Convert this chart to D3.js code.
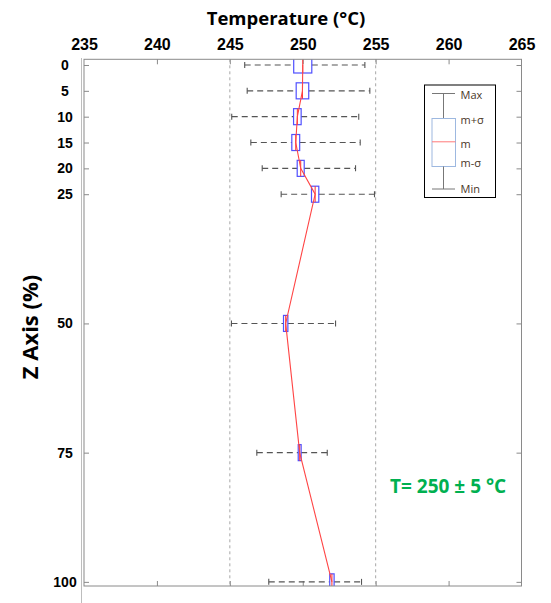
<!DOCTYPE html>
<html lang="en">
<head>
	<meta charset="UTF-8">
	<title>Temperature profile</title>
	<script src="https://d3js.org/d3.v7.min.js"></script>
	<style>
		body { margin: 0; background: #fff; }
		svg { display: block; font-family: "Open Sans", sans-serif; }
		.lbl text { font-weight: bold; fill: #000; }
		.inner line { stroke: #8a8a8a; }
	</style>
</head>
<body>
<svg id="chart" width="551" height="603"></svg>
<script>
	// depth positions (% of Z axis) and temperature stats (°C)
	var zPos   = [0, 5, 10, 15, 20, 25, 50, 75, 100];
	var meanT  = [250.0, 249.98, 249.63, 249.52, 249.86, 250.85, 248.83, 249.79, 252.0];
	var sigmaT = [0.62, 0.43, 0.26, 0.27, 0.24, 0.25, 0.15, 0.10, 0.15];
	var minT   = [246.02, 246.19, 245.13, 246.44, 247.22, 248.52, 245.11, 246.85, 247.67];
	var maxT   = [254.26, 254.6, 253.84, 253.94, 253.62, 254.92, 252.25, 251.68, 254.03];

	var xTicks = [235, 240, 245, 250, 255, 260, 265];
	var yTicks = [0, 5, 10, 15, 20, 25, 50, 75, 100];
	var limits = [245, 255];

	(function chart() {
		var data = zPos.map(function(z, i) {
			return { z: z, m: meanT[i], s: sigmaT[i], lo: minT[i], hi: maxT[i] };
		});

		var svg = d3.select("#chart");
		var pl = 84, pr = 521.5, pt = 59.3, pb = 586;

		var x = d3.scaleLinear().domain([235, 265]).range([pl, pr]);
		var y = d3.scaleLinear().domain([-1.1, 100.8]).range([pt, pb]);

		svg.append("rect").attr("width", 551).attr("height", 603).attr("fill", "#fff");

		svg.append("clipPath").attr("id", "clip")
			.append("rect").attr("x", pl).attr("y", pt)
			.attr("width", pr - pl).attr("height", pb - pt);

		// overlay axis line on the left
		svg.append("line")
			.attr("x1", 81.5).attr("x2", 81.5).attr("y1", 58).attr("y2", 603)
			.attr("stroke", "#bdbdbd");

		// inward ticks on all four sides
		var inner = svg.append("g").attr("class", "inner");
		inner.append("g").attr("transform", "translate(0," + pt + ")")
			.call(d3.axisTop(x).tickValues(xTicks.slice(1, -1)).tickSize(-5).tickFormat(""));
		inner.append("g").attr("transform", "translate(0," + pb + ")")
			.call(d3.axisBottom(x).tickValues(xTicks.slice(1, -1)).tickSize(-5).tickFormat(""));
		inner.append("g").attr("transform", "translate(" + pl + ",0)")
			.call(d3.axisLeft(y).tickValues(yTicks).tickSize(-5).tickFormat(""));
		inner.append("g").attr("transform", "translate(" + pr + ",0)")
			.call(d3.axisRight(y).tickValues(yTicks).tickSize(-5).tickFormat(""));
		inner.selectAll(".domain").remove();

		// ±5 °C reference lines
		svg.selectAll(".limit").data(limits).enter().append("line")
			.attr("class", "limit")
			.attr("x1", function(d) { return x(d); }).attr("x2", function(d) { return x(d); })
			.attr("y1", pt).attr("y2", pb)
			.attr("stroke", "#a8a8a8").attr("stroke-dasharray", "3,3");

		var plot = svg.append("g").attr("clip-path", "url(#clip)");
		var halfBox = 1.55; // box half height in axis units

		var row = plot.selectAll(".row").data(data).enter().append("g").attr("class", "row");

		// whiskers
		row.append("line")
			.attr("x1", function(d) { return x(d.lo); }).attr("x2", function(d) { return x(d.m - d.s); })
			.attr("y1", function(d) { return y(d.z); }).attr("y2", function(d) { return y(d.z); })
			.attr("stroke", "#555").attr("stroke-width", 1.1).attr("stroke-dasharray", "6,4");
		row.append("line")
			.attr("x1", function(d) { return x(d.m + d.s); }).attr("x2", function(d) { return x(d.hi); })
			.attr("y1", function(d) { return y(d.z); }).attr("y2", function(d) { return y(d.z); })
			.attr("stroke", "#555").attr("stroke-width", 1.1).attr("stroke-dasharray", "6,4");
		["lo", "hi"].forEach(function(k) {
			row.append("line")
				.attr("x1", function(d) { return x(d[k]); }).attr("x2", function(d) { return x(d[k]); })
				.attr("y1", function(d) { return y(d.z) - 3; }).attr("y2", function(d) { return y(d.z) + 3; })
				.attr("stroke", "#555").attr("stroke-width", 1.1);
		});

		// m ± sigma boxes
		row.append("rect")
			.attr("x", function(d) { return x(d.m - d.s); })
			.attr("width", function(d) { return x(d.m + d.s) - x(d.m - d.s); })
			.attr("y", function(d) { return y(d.z - halfBox); })
			.attr("height", y(halfBox) - y(-halfBox))
			.attr("fill", "none").attr("stroke", "#5050ff").attr("stroke-width", 1.2);
		row.append("line")
			.attr("x1", function(d) { return x(d.m); }).attr("x2", function(d) { return x(d.m); })
			.attr("y1", function(d) { return y(d.z - halfBox); }).attr("y2", function(d) { return y(d.z + halfBox); })
			.attr("stroke", "#ff3030");

		// mean profile
		plot.append("path").datum(data)
			.attr("fill", "none").attr("stroke", "#ff4545").attr("stroke-width", 1.1)
			.attr("d", d3.line().x(function(d) { return x(d.m); }).y(function(d) { return y(d.z); }));

		// plot frame
		svg.append("rect")
			.attr("x", pl).attr("y", pt).attr("width", pr - pl).attr("height", pb - pt)
			.attr("fill", "none").attr("stroke", "#8a8a8a");

		// tick labels
		svg.append("g").attr("class", "lbl").attr("transform", "translate(0,50)")
			.call(d3.axisTop(x).tickValues(xTicks).tickSize(0).tickPadding(0))
			.call(function(g) { g.select(".domain").remove(); })
			.selectAll("text").style("font-size", "16px");
		svg.append("g").attr("class", "lbl").attr("transform", "translate(65,0)")
			.call(d3.axisLeft(y).tickValues(yTicks).tickSize(0).tickPadding(0))
			.call(function(g) { g.select(".domain").remove(); })
			.selectAll("text").style("font-size", "14px").attr("text-anchor", "middle");

		// titles
		svg.append("text").attr("x", 286).attr("y", 25).attr("text-anchor", "middle")
			.style("font-size", "18.5px").style("font-weight", "bold").text("Temperature (°C)");
		svg.append("text").attr("transform", "translate(38,327) rotate(-90)").attr("text-anchor", "middle")
			.style("font-size", "22px").style("font-weight", "bold").text("Z Axis (%)");
		svg.append("text").attr("x", 390).attr("y", 493)
			.style("font-size", "19px").style("font-weight", "bold").attr("fill", "#00b050")
			.text("T= 250 ± 5 °C");

		// legend
		var lg = svg.append("g");
		lg.append("rect").attr("x", 424.5).attr("y", 85).attr("width", 71).attr("height", 112.5)
			.attr("fill", "#fff").attr("stroke", "#000");
		var lx = 443.5;
		lg.append("line").attr("x1", 432).attr("x2", 455).attr("y1", 93.5).attr("y2", 93.5).attr("stroke", "#777");
		lg.append("line").attr("x1", lx).attr("x2", lx).attr("y1", 93.5).attr("y2", 118.5).attr("stroke", "#777");
		lg.append("rect").attr("x", 432).attr("y", 118.5).attr("width", 23.5).attr("height", 48)
			.attr("fill", "none").attr("stroke", "#9db8e0");
		lg.append("line").attr("x1", 432).attr("x2", 455.5).attr("y1", 141.8).attr("y2", 141.8).attr("stroke", "#ff7a7a");
		lg.append("line").attr("x1", lx).attr("x2", lx).attr("y1", 166.5).attr("y2", 189).attr("stroke", "#777");
		lg.append("line").attr("x1", 432).attr("x2", 455).attr("y1", 189).attr("y2", 189).attr("stroke", "#777");
		var legLabels = [["Max", 99], ["m+σ", 124], ["m", 148], ["m-σ", 166.5], ["Min", 193]];
		lg.selectAll(".lt").data(legLabels).enter().append("text")
			.attr("x", 460.5).attr("y", function(d) { return d[1]; })
			.style("font-size", "11px").attr("fill", "#4a3728")
			.text(function(d) { return d[0]; });
	})();
</script>
</body>
</html>
